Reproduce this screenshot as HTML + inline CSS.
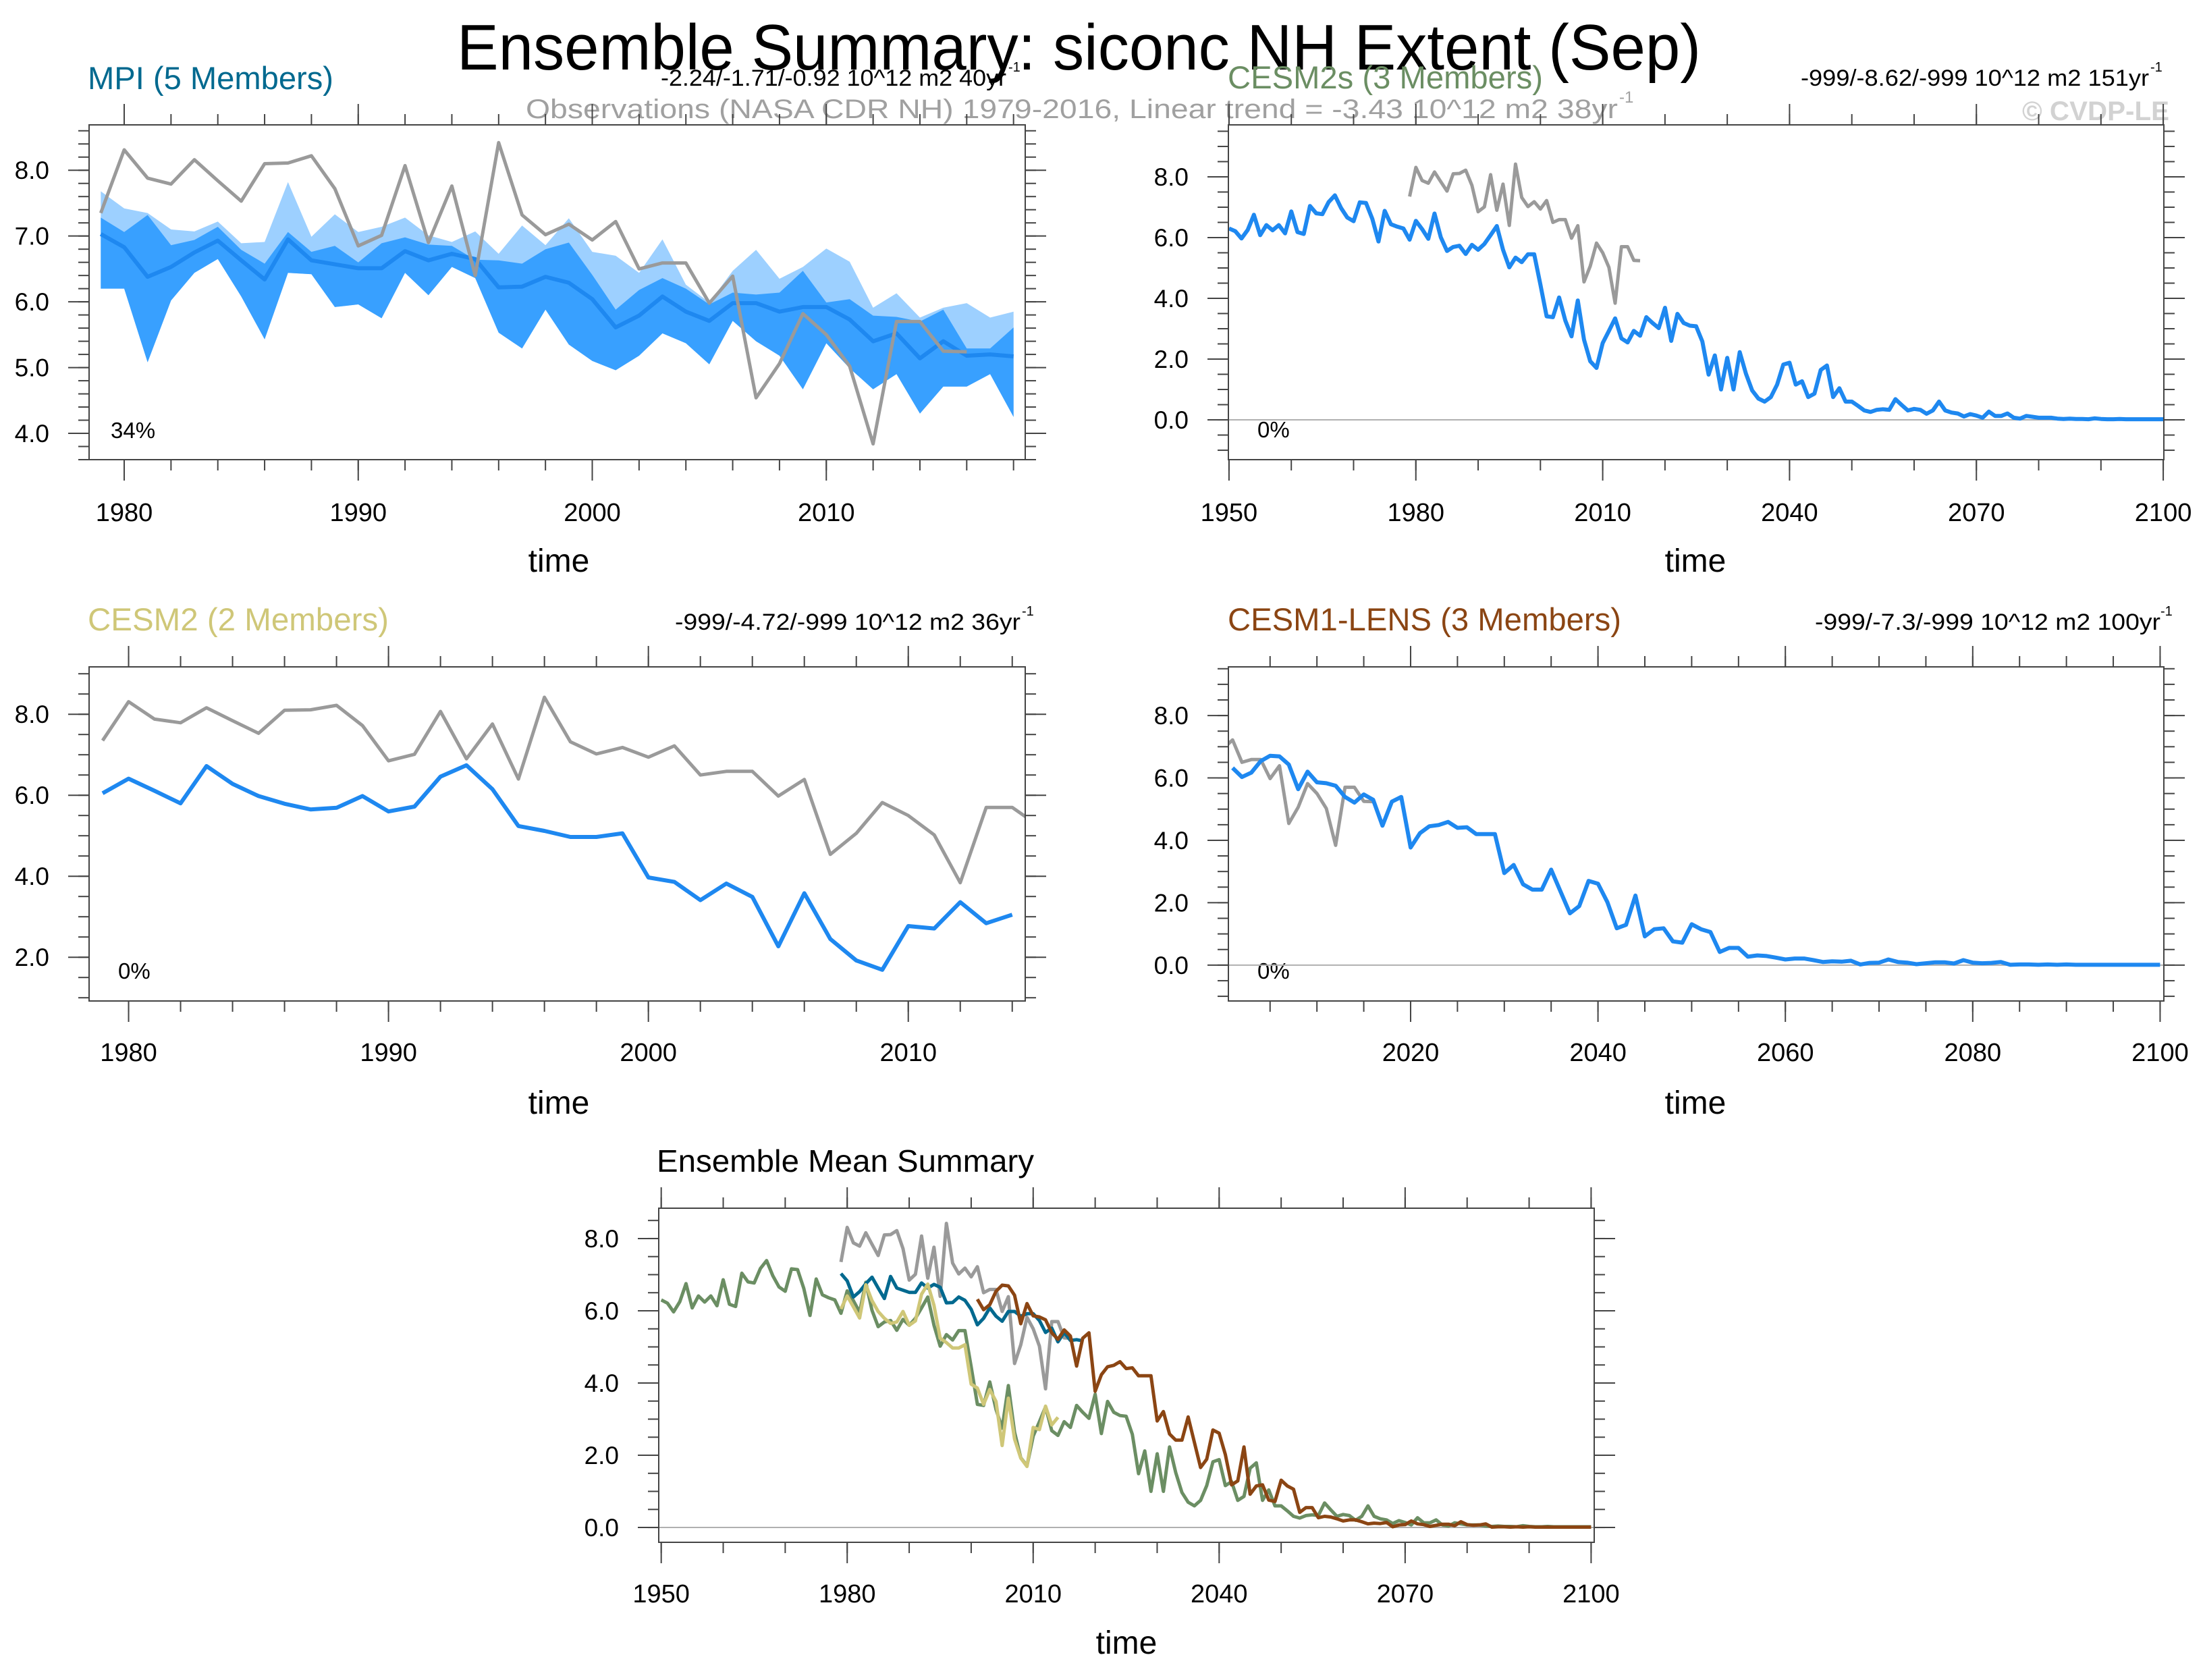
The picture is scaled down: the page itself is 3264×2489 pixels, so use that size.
<!DOCTYPE html>
<html><head><meta charset="utf-8"><title>Ensemble Summary</title>
<style>
html,body{margin:0;padding:0;background:#fff;}
svg{display:block;font-family:"Liberation Sans",Arial,sans-serif;}
</style></head>
<body>
<svg id="fig" xmlns="http://www.w3.org/2000/svg" width="3264" height="2489" viewBox="0 0 3264 2489">
<rect x="0" y="0" width="3264" height="2489" fill="#fff"/>
<text x="677" y="103" font-size="96" textLength="1843" lengthAdjust="spacingAndGlyphs" fill="#000">Ensemble Summary: siconc NH Extent (Sep)</text>
<text x="779" y="175" font-size="40" textLength="1618" lengthAdjust="spacingAndGlyphs" fill="#a0a0a0">Observations (NASA CDR NH) 1979-2016, Linear trend = -3.43 10^12 m2 38yr</text>
<text x="2399" y="152" font-size="24" fill="#a0a0a0">-1</text>
<text x="2996" y="178" font-size="40" font-weight="bold" textLength="218" lengthAdjust="spacingAndGlyphs" fill="#d2d2d2">© CVDP-LE</text>

<text x="130" y="132" font-size="47" textLength="364" lengthAdjust="spacingAndGlyphs" fill="#00698f">MPI (5 Members)</text>
<text x="979" y="127" font-size="34" textLength="512" lengthAdjust="spacingAndGlyphs" fill="#000">-2.24/-1.71/-0.92 10^12 m2 40yr</text>
<text x="1494" y="106" font-size="20" fill="#000">-1</text>

<text x="1819" y="131" font-size="47" textLength="467" lengthAdjust="spacingAndGlyphs" fill="#6b8e63">CESM2s (3 Members)</text>
<text x="2668" y="127" font-size="34" textLength="516" lengthAdjust="spacingAndGlyphs" fill="#000">-999/-8.62/-999 10^12 m2 151yr</text>
<text x="3186" y="106" font-size="20" fill="#000">-1</text>

<text x="130" y="934" font-size="47" textLength="446" lengthAdjust="spacingAndGlyphs" fill="#cfc778">CESM2 (2 Members)</text>
<text x="1000" y="933" font-size="34" textLength="512" lengthAdjust="spacingAndGlyphs" fill="#000">-999/-4.72/-999 10^12 m2 36yr</text>
<text x="1514" y="912" font-size="20" fill="#000">-1</text>

<text x="1819" y="934" font-size="47" textLength="583" lengthAdjust="spacingAndGlyphs" fill="#8b4513">CESM1-LENS (3 Members)</text>
<text x="2689" y="933" font-size="34" textLength="512" lengthAdjust="spacingAndGlyphs" fill="#000">-999/-7.3/-999 10^12 m2 100yr</text>
<text x="3201" y="912" font-size="20" fill="#000">-1</text>

<text x="973" y="1736" font-size="46" textLength="559" lengthAdjust="spacingAndGlyphs" fill="#000">Ensemble Mean Summary</text>

<text x="164" y="649" font-size="33" fill="#000">34%</text>
<text x="1863" y="648" font-size="33" fill="#000">0%</text>
<text x="175" y="1450" font-size="33" fill="#000">0%</text>
<text x="1863" y="1450" font-size="33" fill="#000">0%</text>

<text x="828" y="847" font-size="48" text-anchor="middle" fill="#000">time</text>
<text x="2512" y="847" font-size="48" text-anchor="middle" fill="#000">time</text>
<text x="828" y="1650" font-size="48" text-anchor="middle" fill="#000">time</text>
<text x="2512" y="1650" font-size="48" text-anchor="middle" fill="#000">time</text>
<text x="1669" y="2450" font-size="48" text-anchor="middle" fill="#000">time</text>
</svg>
<script>
// ---------- data ----------
const obsStart = 1979;
const obsVals = [7.35,8.31,7.88,7.79,8.16,7.84,7.53,8.10,8.11,8.22,7.72,6.85,7.01,8.07,6.90,7.76,6.40,8.42,7.32,7.02,7.18,6.94,7.22,6.50,6.59,6.59,5.98,6.39,4.54,5.06,5.82,5.50,5.02,3.84,5.70,5.70,5.25,5.24];

const mpiStart = 1979;
const mpiMean = [7.03,6.83,6.38,6.53,6.75,6.93,6.63,6.34,6.95,6.63,6.57,6.51,6.51,6.77,6.63,6.73,6.65,6.22,6.23,6.38,6.29,6.04,5.61,5.79,6.08,5.85,5.71,5.98,5.98,5.85,5.92,5.92,5.73,5.40,5.52,5.14,5.40,5.18,5.20,5.17];
const mpiDarkHi = [7.28,7.06,7.32,6.86,6.94,7.14,6.79,6.58,7.06,6.76,6.85,6.60,6.89,6.98,6.87,6.85,6.64,6.63,6.58,6.80,6.90,6.41,5.88,6.18,6.36,6.20,5.96,6.14,6.11,6.14,6.47,5.99,6.04,5.79,5.77,5.70,5.88,5.29,5.29,5.61];
const mpiDarkLo = [6.20,6.20,5.08,6.02,6.44,6.65,6.08,5.43,6.44,6.42,5.92,5.96,5.75,6.44,6.10,6.53,6.36,5.53,5.29,5.88,5.35,5.10,4.96,5.18,5.52,5.37,5.05,5.71,5.40,5.18,4.67,5.37,4.99,4.67,4.90,4.30,4.71,4.71,4.90,4.25];
const mpiLightHi = [7.68,7.42,7.35,7.10,7.07,7.22,6.89,6.91,7.82,6.99,7.33,7.06,7.14,7.28,7.01,6.91,7.07,6.73,7.16,6.86,7.27,6.76,6.70,6.44,6.95,6.26,5.99,6.47,6.79,6.35,6.53,6.81,6.61,5.91,6.13,5.76,5.91,5.98,5.76,5.85];

const cesm2sStart = 1950;
const cesm2sVals = [6.30,6.21,5.97,6.25,6.75,6.08,6.41,6.24,6.41,6.14,
6.86,6.18,6.12,7.04,6.80,6.77,7.17,7.39,6.97,6.66,
6.54,7.16,7.14,6.62,5.87,6.88,6.44,6.36,6.30,5.93,
6.55,6.28,5.96,6.79,6.01,5.56,5.69,5.73,5.46,5.76,
5.60,5.79,6.08,6.38,5.60,5.02,5.34,5.19,5.45,5.45,
4.45,3.41,3.38,4.03,3.27,2.75,3.93,2.64,1.93,1.71,
2.53,2.93,3.34,2.68,2.55,2.93,2.77,3.38,3.19,3.02,
3.69,2.60,3.49,3.19,3.10,
3.08,2.58,1.49,2.12,1.00,
2.04,1.00,2.23,1.52,0.97,0.70,0.60,0.75,1.16,1.82,
1.88,1.16,1.27,0.75,0.86,1.64,1.79,0.75,1.04,0.60,
0.60,0.46,0.31,0.26,0.33,0.35,0.33,0.68,0.49,0.31,
0.36,0.33,0.20,0.31,0.60,0.31,0.24,0.21,0.11,0.19,
0.14,0.07,0.27,0.13,0.13,0.21,0.07,0.04,0.13,0.10,
0.07,0.07,0.07,0.04,
0.03,0.04,0.03,0.03,0.02,0.05,0.03,0.02,0.02,0.03,0.02,0.02,0.02,0.02,0.02,0.02,0.02];

const cesm2Start = 1979;
const cesm2Vals = [6.05,6.41,6.11,5.80,6.72,6.28,5.98,5.79,5.65,5.69,5.98,5.60,5.72,6.46,6.74,6.15,5.24,5.12,4.97,4.97,5.06,3.97,3.86,3.41,3.82,3.49,2.27,3.58,2.45,1.92,1.69,2.77,2.71,3.36,2.84,3.05];

const cesm1Start = 2001;
const cesm1Vals = [6.32,6.03,6.17,6.54,6.71,6.69,6.43,5.64,6.20,5.86,
5.83,5.75,5.39,5.21,5.47,5.30,4.47,5.24,5.39,3.77,
4.23,4.45,4.49,4.59,4.40,4.42,4.20,4.20,4.20,2.95,
3.21,2.59,2.42,2.42,3.06,2.36,1.66,1.89,2.70,2.61,
2.02,1.18,1.29,2.23,0.92,1.15,1.18,0.76,0.72,1.31,
1.15,1.06,0.42,0.55,0.55,0.27,0.31,0.29,0.24,0.18,
0.21,0.21,0.16,0.10,0.12,0.11,0.14,0.02,0.07,0.08,
0.18,0.10,0.08,0.03,0.06,0.09,0.09,0.05,0.16,0.08,
0.06,0.07,0.10,0.01,0.02,0.02,0.01,0.02,0.01,0.02,
0.01,0.01,0.01,0.01,0.01,0.01,0.01,0.01,0.01,0.01];

// tick labels
const ticksP1x = [1980,1990,2000,2010];
const ticksP1y = ["4.0","5.0","6.0","7.0","8.0"];
const ticksLongX = [1950,1980,2010,2040,2070,2100];
const ticksEvenY = ["0.0","2.0","4.0","6.0","8.0"];
const ticksP3y = ["2.0","4.0","6.0","8.0"];
const ticksP4x = [2020,2040,2060,2080,2100];

// ---------- drawing ----------
const NS = "http://www.w3.org/2000/svg";
const svg = document.getElementById('fig');
function mk(tag, attrs, parent){
  const e = document.createElementNS(NS, tag);
  for (const k in attrs) e.setAttribute(k, attrs[k]);
  (parent||svg).appendChild(e);
  return e;
}
function makeAxes(c){
  c.sx = v => c.bx0 + (v - c.xmin)/(c.xmax - c.xmin)*(c.bx1 - c.bx0);
  c.sy = v => c.by1 - (v - c.ymin)/(c.ymax - c.ymin)*(c.by1 - c.by0);
  const g = mk('g', {});
  
  
  const cp = mk('clipPath', {id: c.name + '-clip'}, g);
  mk('rect', {x:c.bx0, y:c.by0, width:c.bx1-c.bx0, height:c.by1-c.by0}, cp);
  const tk = (x1,y1,x2,y2,nm)=>{
    const l = mk('line', {x1:x1,y1:y1,x2:x2,y2:y2,stroke:'#444','stroke-width':2}, g);
    
    
  };
  // x minor
  for (let v = Math.ceil(c.xmin/c.xminor)*c.xminor; v <= c.xmax+1e-9; v += c.xminor){
    const x = c.sx(v);
    tk(x, c.by1, x, c.by1+16, 'x-minor-tick');
    tk(x, c.by0, x, c.by0-16, 'x-minor-tick-top');
  }
  c.xt.forEach(v=>{
    const x = c.sx(v);
    tk(x, c.by1, x, c.by1+31, 'x-major-tick');
    tk(x, c.by0, x, c.by0-31, 'x-major-tick-top');
    const t = mk('text', {x:x, y:c.xlabY, 'font-size':38, 'text-anchor':'middle', fill:'#000'}, g);
    
    
    t.textContent = String(v);
  });
  for (let v = Math.ceil(c.ymin/c.yminor-1e-9)*c.yminor; v <= c.ymax+1e-9; v += c.yminor){
    const y = c.sy(v);
    tk(c.bx0, y, c.bx0-16, y, 'y-minor-tick');
    tk(c.bx1, y, c.bx1+16, y, 'y-minor-tick-right');
  }
  c.yt.forEach(s=>{
    const v = parseFloat(s), y = c.sy(v);
    tk(c.bx0, y, c.bx0-31, y, 'y-major-tick');
    tk(c.bx1, y, c.bx1+31, y, 'y-major-tick-right');
    const t = mk('text', {x:c.bx0-59, y:y+13, 'font-size':37, 'text-anchor':'end', fill:'#000'}, g);
    
    
    t.textContent = s;
  });
  if (c.zero){
    const z = mk('line', {x1:c.bx0, y1:c.sy(0), x2:c.bx1, y2:c.sy(0), stroke:'#b0b0b0', 'stroke-width':2}, g);
    
    
  }
  c.plot = mk('g', {'clip-path':'url(#'+c.name+'-clip)'}, g);
  c.frame = ()=>{
    const r = mk('rect', {x:c.bx0, y:c.by0, width:c.bx1-c.bx0, height:c.by1-c.by0, fill:'none', stroke:'#444', 'stroke-width':2}, g);
    
    
  };
  return c;
}
function pts(c, start, vals){ return vals.map((v,i)=> c.sx(start+i).toFixed(1)+','+c.sy(v).toFixed(1)); }
function line(c, start, vals, color, w, nm){
  const p = mk('polyline', {points: pts(c,start,vals).join(' '), fill:'none', stroke:color, 'stroke-width':w, 'stroke-linejoin':'round'}, c.plot);
  
  
}
function band(c, start, hi, lo, color, nm){
  const up = pts(c,start,hi), dn = pts(c,start,lo).reverse();
  const p = mk('polygon', {points: up.concat(dn).join(' '), fill:color, stroke:'none'}, c.plot);
  
  
}
const BLUE = '#1e88f0', GRAY = '#9a9a9a';

// Panel 1 MPI
const p1 = makeAxes({name:'mpi', bx0:132, bx1:1519, by0:185, by1:681, xmin:1978.5, xmax:2018.5, ymin:3.6, ymax:8.69, xt:ticksP1x, xminor:2, yt:ticksP1y, yminor:0.2, xlabY:772});
band(p1, mpiStart, mpiLightHi, mpiDarkLo, '#9dd0ff', 'mpi-full-range-band');
band(p1, mpiStart, mpiDarkHi, mpiDarkLo, '#38a0ff', 'mpi-inner-range-band');
line(p1, mpiStart, mpiMean, BLUE, 6, 'mpi-ensemble-mean-line');
line(p1, obsStart, obsVals, GRAY, 5, 'mpi-observations-line');
p1.frame();

// Panel 2 CESM2s
const p2 = makeAxes({name:'cesm2s', bx0:1820, bx1:3206, by0:185, by1:681, xmin:1949.9, xmax:2100.1, ymin:-1.31, ymax:9.71, xt:ticksLongX, xminor:10, yt:ticksEvenY, yminor:0.5, xlabY:772, zero:true});
line(p2, cesm2sStart, cesm2sVals, BLUE, 6, 'cesm2s-ensemble-mean-line');
line(p2, obsStart, obsVals, GRAY, 5, 'cesm2s-observations-line');
p2.frame();

// Panel 3 CESM2
const p3 = makeAxes({name:'cesm2', bx0:132, bx1:1519, by0:988, by1:1483, xmin:1978.48, xmax:2014.5, ymin:0.92, ymax:9.17, xt:ticksP1x, xminor:2, yt:ticksP3y, yminor:0.5, xlabY:1572});
line(p3, cesm2Start, cesm2Vals, BLUE, 6, 'cesm2-ensemble-mean-line');
line(p3, obsStart, obsVals, GRAY, 5, 'cesm2-observations-line');
p3.frame();

// Panel 4 CESM1-LENS
const p4 = makeAxes({name:'cesm1-lens', bx0:1820, bx1:3206, by0:988, by1:1483, xmin:2000.55, xmax:2100.4, ymin:-1.15, ymax:9.56, xt:ticksP4x, xminor:5, yt:ticksEvenY, yminor:0.5, xlabY:1572, zero:true});
line(p4, obsStart, obsVals, GRAY, 5, 'cesm1-lens-observations-line');
line(p4, cesm1Start, cesm1Vals, BLUE, 6, 'cesm1-lens-ensemble-mean-line');
p4.frame();

// Panel 5 Ensemble mean summary
const p5 = makeAxes({name:'ensemble-mean', bx0:976, bx1:2362, by0:1790, by1:2285, xmin:1949.6, xmax:2100.5, ymin:-0.41, ymax:8.84, xt:ticksLongX, xminor:10, yt:ticksEvenY, yminor:0.5, xlabY:2374, zero:true});
line(p5, obsStart, obsVals, GRAY, 5, 'summary-observations-line');
line(p5, cesm2sStart, cesm2sVals, '#6b8e63', 5, 'summary-cesm2s-line');
line(p5, mpiStart, mpiMean, '#00698f', 5, 'summary-mpi-line');
line(p5, cesm2Start, cesm2Vals, '#cfc778', 5, 'summary-cesm2-line');
line(p5, cesm1Start, cesm1Vals, '#8b4513', 5, 'summary-cesm1-lens-line');
p5.frame();
</script>
</body></html>
